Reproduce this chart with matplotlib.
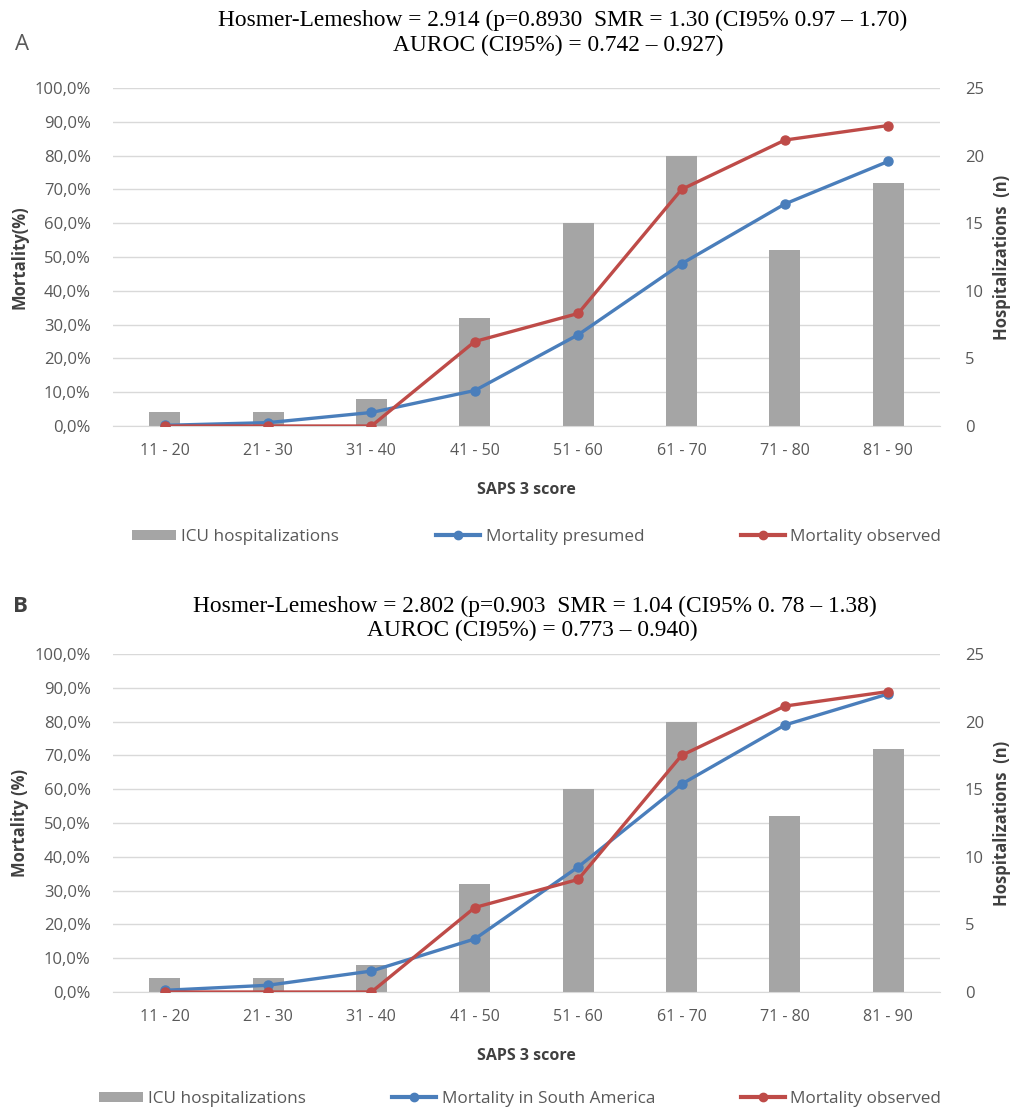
import matplotlib
matplotlib.use("Agg")
import matplotlib.pyplot as plt
from matplotlib.patches import Patch
from matplotlib.lines import Line2D
from matplotlib.ticker import FuncFormatter, MultipleLocator

categories = ["11 - 20", "21 - 30", "31 - 40", "41 - 50", "51 - 60", "61 - 70", "71 - 80", "81 - 90"]
hospitalizations = [1, 1, 2, 8, 15, 20, 13, 18]
mortality_presumed = [0.2, 1.0, 4.0, 10.5, 27.0, 48.0, 65.7, 78.3]
mortality_south_america = [0.5, 2.0, 6.2, 15.7, 37.0, 61.5, 79.0, 88.2]
mortality_observed = [0.0, 0.0, 0.0, 25.0, 33.3, 70.0, 84.6, 88.9]

titles_A = ["Hosmer-Lemeshow = 2.914 (p=0.8930  SMR = 1.30 (CI95% 0.97 \u2013 1.70)",
            "AUROC (CI95%) = 0.742 \u2013 0.927)"]
titles_B = ["Hosmer-Lemeshow = 2.802 (p=0.903  SMR = 1.04 (CI95% 0. 78 \u2013 1.38)",
            "AUROC (CI95%) = 0.773 \u2013 0.940)"]

BAR = "#a5a5a5"
BLUE = "#4a7ebb"
RED = "#be4b48"
GRID = "#d9d9d9"
TICK = "#595959"
LAB = "#404040"

plt.rcParams['font.family'] = ['Open Sans', 'DejaVu Sans']

W, H = 1014, 1113
fig = plt.figure(figsize=(W / 100, H / 100), dpi=100)

def fx(px):
    return px / W

def fy(py):
    return 1 - py / H

def panel(top_px, bottom_px, presumed, presumed_label, ylabel, titles, title_y, title_x, letter, letter_kw, legend_y, legend_x0):
    axb = fig.add_axes([fx(113), fy(bottom_px), fx(940) - fx(113), fy(top_px) - fy(bottom_px)])
    axl = axb.twinx()
    x = list(range(len(categories)))
    axb.bar(x, hospitalizations, width=0.3, color=BAR, zorder=2)
    axb.set_ylim(0, 25)
    axb.yaxis.set_major_locator(MultipleLocator(5))
    axb.yaxis.set_minor_locator(MultipleLocator(2.5))
    axb.grid(True, which='both', axis='y', color=GRID, linewidth=1.0, zorder=0)
    axb.set_axisbelow(True)
    axb.yaxis.tick_right()
    axb.yaxis.set_label_position("right")
    axb.tick_params(axis='y', which='both', length=0, pad=18, labelsize=12, labelcolor=TICK)
    axb.tick_params(axis='x', length=0, pad=12, labelsize=11.5, labelcolor=TICK)
    axb.set_xticks(x)
    axb.set_xticklabels(categories)
    axb.set_xlim(-0.5, len(categories) - 0.5)

    axl.plot(x, presumed, color=BLUE, lw=2.4, marker='o', ms=6.5, zorder=3)
    axl.plot(x, mortality_observed, color=RED, lw=2.4, marker='o', ms=6.5, zorder=4)
    axl.set_ylim(0, 100)
    axl.yaxis.tick_left()
    axl.yaxis.set_major_locator(MultipleLocator(10))
    axl.yaxis.set_major_formatter(FuncFormatter(lambda v, p: ("%.1f%%" % v).replace('.', ',')))
    axl.tick_params(axis='y', length=0, pad=16, labelsize=12, labelcolor=TICK)
    axl.set_zorder(axb.get_zorder() + 1)
    axl.patch.set_visible(False)
    for a in (axb, axl):
        for s in a.spines.values():
            s.set_visible(False)
    axb.spines['bottom'].set_visible(True)
    axb.spines['bottom'].set_color(GRID)

    fig.text(fx(20), fy((top_px + bottom_px) / 2), ylabel, rotation=90, ha='center', va='center',
             fontsize=12, fontweight='bold', color=LAB)
    fig.text(fx(1002), fy((top_px + bottom_px) / 2), "Hospitalizations  (n)", rotation=90, ha='center', va='center',
             fontsize=12, fontweight='bold', color=LAB)
    fig.text(fx(526), fy(bottom_px + 64), "SAPS 3 score", ha='center', va='center',
             fontsize=11.5, fontweight='bold', color=LAB)

    for t, ty, tx in zip(titles, title_y, title_x):
        fig.text(fx(tx), fy(ty), t, ha='center', va='center', fontsize=16.8,
                 family=['Liberation Serif', 'DejaVu Serif'], color='black')
    fig.text(fx(letter[1]), fy(letter[2]), letter[0], ha='center', va='center', **letter_kw)

    handles = [Patch(facecolor=BAR, edgecolor='none'),
               Line2D([0], [0], color=BLUE, lw=3, marker='o', ms=6),
               Line2D([0], [0], color=RED, lw=3, marker='o', ms=6)]
    labels = ["ICU hospitalizations", presumed_label, "Mortality observed"]
    fig.legend(handles, labels, loc='center left', ncol=3, mode='expand',
               bbox_to_anchor=(fx(legend_x0), fy(legend_y) - 0.01, fx(948) - fx(legend_x0), 0.02),
               frameon=False, fontsize=12.3, handlelength=2.6, handleheight=0.6, handletextpad=0.3,
               borderaxespad=0, labelcolor=TICK)

panel(88, 426, mortality_presumed, "Mortality presumed", "Mortality(%)", titles_A, [20, 45], [563, 558],
      ("A", 22, 45), dict(fontsize=16, color=TICK), 537, 125)
panel(654, 992, mortality_south_america, "Mortality in South America", "Mortality (%)", titles_B, [606, 630], [535, 532],
      ("B", 20, 606), dict(fontsize=16, color=LAB, fontweight='bold'), 1099, 92)

fig.savefig("out.png", dpi=100)
